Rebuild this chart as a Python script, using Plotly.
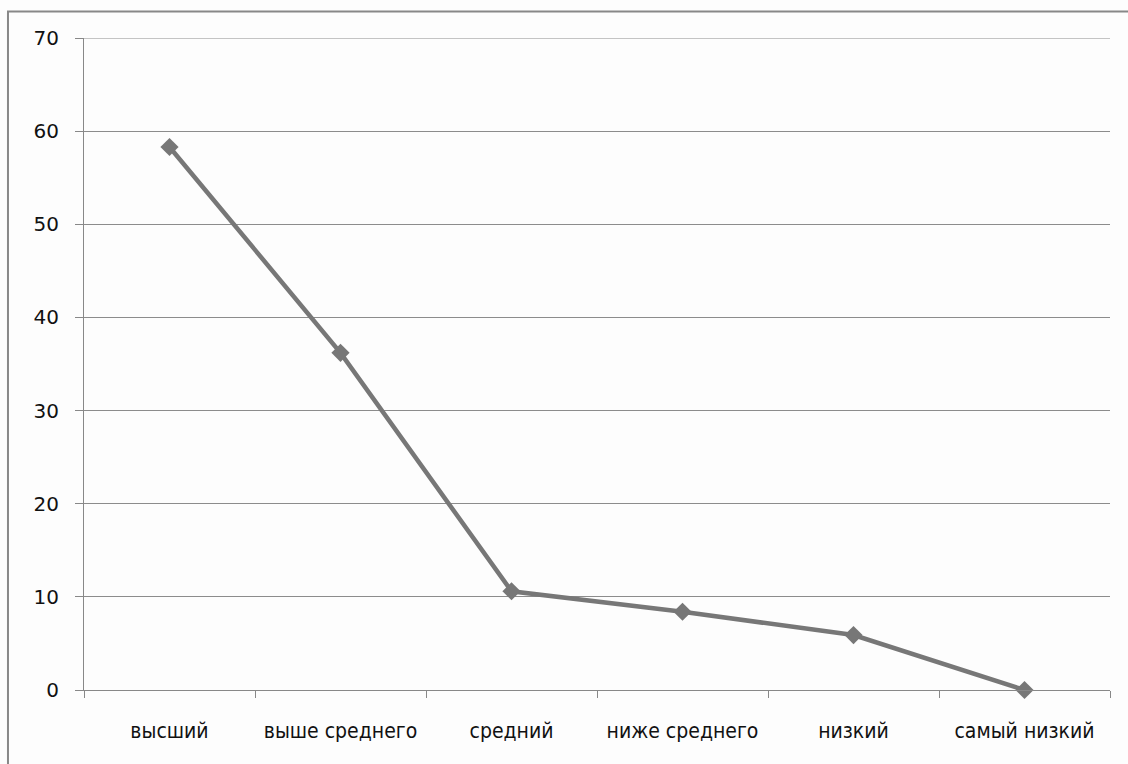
import plotly.graph_objects as go

categories = ["высший", "выше среднего", "средний", "ниже среднего", "низкий", "самый низкий"]
values = [58.3, 36.2, 10.6, 8.4, 5.9, 0.0]
y_ticks = [0, 10, 20, 30, 40, 50, 60, 70]

fig = go.Figure()
fig.add_trace(go.Scatter(
    x=categories, y=values, mode="lines+markers",
    line=dict(color="#777777", width=4.5),
    marker=dict(symbol="diamond", size=14, color="#777777"),
    showlegend=False, cliponaxis=False,
))

fig.update_layout(
    width=1128, height=764,
    margin=dict(l=84, r=18, t=38, b=74),
    paper_bgcolor="#fdfdfd", plot_bgcolor="#fdfdfd",
    font=dict(family="DejaVu Sans", size=20, color="#111111"),
    xaxis=dict(
        type="category", tickson="boundaries", showgrid=False,
        ticks="outside", ticklen=7, tickcolor="#888888", tickwidth=1,
        showline=True, linecolor="#888888", linewidth=1,
        ticklabelstandoff=22,
        tickfont=dict(family="DejaVu Sans Condensed, DejaVu Sans", size=21),
        range=[-0.5, 5.5],
    ),
    yaxis=dict(
        range=[0, 70], tickvals=y_ticks, showgrid=True, gridcolor="#8c8c8c", gridwidth=1,
        ticks="outside", ticklen=8, tickcolor="#888888",
        showline=True, linecolor="#888888", linewidth=1,
        zeroline=False, ticklabelstandoff=12,
        tickfont=dict(size=20),
    ),
    shapes=[
        dict(
            type="path", xref="paper", yref="paper",
            path="M -0.0741 -0.2 L -0.0741 1.0406 L 1.1 1.0406",
            line=dict(color="#888888", width=2),
        ),
        dict(
            type="line", xref="paper", yref="y", x0=0, x1=1, y0=max(y_ticks), y1=max(y_ticks),
            line=dict(color="#8c8c8c", width=1), layer="below",
        ),
    ],
)

fig.write_html("out.html")
